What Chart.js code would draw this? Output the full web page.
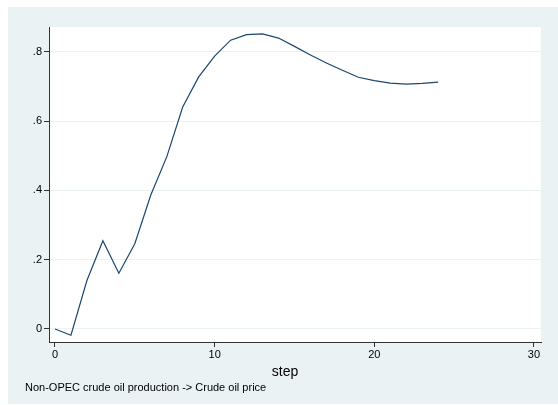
<!DOCTYPE html>
<html>
<head>
<meta charset="utf-8">
<script src="https://cdn.jsdelivr.net/npm/chart.js@4"></script>
<style>
html,body{margin:0;padding:0;background:#fff;}
#wrap{width:558px;height:405px;position:relative;}
</style>
</head>
<body>
<div id="wrap"><canvas id="c" width="558" height="405"></canvas></div>
<script>
const steps = [0,1,2,3,4,5,6,7,8,9,10,11,12,13,14,15,16,17,18,19,20,21,22,23,24];
const irf = [0, -0.018, 0.140, 0.255, 0.161, 0.246, 0.387, 0.497, 0.641, 0.728, 0.788, 0.834, 0.850, 0.852, 0.840, 0.816, 0.791, 0.768, 0.747, 0.727, 0.717, 0.710, 0.707, 0.709, 0.713];
const xTicks = [0, 10, 20, 30];
const yTicks = [0, 0.2, 0.4, 0.6, 0.8];
const yTickLabels = ['0', '.2', '.4', '.6', '.8'];
const xTitle = 'step';
const note = 'Non-OPEC crude oil production -> Crude oil price';

const FONT = '"Liberation Sans", Arial, Helvetica, sans-serif';
const AXIS = '#333333';

const bgPlugin = {
  id: 'bg',
  beforeDraw(chart) {
    const ctx = chart.ctx, a = chart.chartArea;
    ctx.save();
    ctx.fillStyle = '#fff';
    ctx.fillRect(0, 0, chart.width, chart.height);
    ctx.fillStyle = '#EAF2F3';
    ctx.fillRect(8, 7, chart.width - 8, chart.height - 8);
    ctx.fillStyle = '#fff';
    ctx.fillRect(a.left, a.top, a.right - a.left, a.bottom - a.top);
    ctx.restore();
  },
  afterDraw(chart) {
    const ctx = chart.ctx;
    ctx.save();
    ctx.fillStyle = '#000';
    ctx.textBaseline = 'middle';
    ctx.font = '14px ' + FONT;
    ctx.textAlign = 'center';
    ctx.fillText(xTitle, 285, 372);
    ctx.font = '11px ' + FONT;
    ctx.textAlign = 'left';
    ctx.fillText(note, 25, 388);
    ctx.restore();
  }
};

new Chart(document.getElementById('c'), {
  type: 'line',
  data: {
    datasets: [{
      data: steps.map((s, i) => ({x: s, y: irf[i]})),
      borderColor: '#1A476F',
      borderWidth: 1.2,
      pointRadius: 0,
      tension: 0,
      fill: false
    }]
  },
  options: {
    responsive: false,
    animation: false,
    devicePixelRatio: 1,
    layout: {padding: {left: 0, top: 27, right: 17, bottom: 0}},
    plugins: {legend: {display: false}, tooltip: {enabled: false}},
    scales: {
      x: {
        type: 'linear',
        min: -0.375,
        max: 30.44,
        afterFit(s) { s.height = 63; },
        afterBuildTicks(s) { s.ticks = xTicks.map(v => ({value: v})); },
        ticks: {
          color: '#000',
          font: {family: FONT, size: 11},
          padding: 1,
          maxRotation: 0,
          callback: v => String(v)
        },
        grid: {drawOnChartArea: false, drawTicks: true, tickLength: 5, tickColor: AXIS, tickWidth: 1},
        border: {display: true, color: AXIS, width: 1}
      },
      y: {
        type: 'linear',
        min: -0.0376,
        max: 0.872,
        afterFit(s) { s.width = 49; },
        afterBuildTicks(s) { s.ticks = yTicks.map(v => ({value: v})); },
        ticks: {
          color: '#000',
          font: {family: FONT, size: 11},
          padding: 2,
          callback: (v) => { const i = yTicks.indexOf(v); return i >= 0 ? yTickLabels[i] : ''; }
        },
        grid: {color: '#EAF2F3', lineWidth: 1, drawTicks: true, tickLength: 5, tickColor: AXIS, tickWidth: 1},
        border: {display: true, color: AXIS, width: 1}
      }
    }
  },
  plugins: [bgPlugin]
});
</script>
</body>
</html>
